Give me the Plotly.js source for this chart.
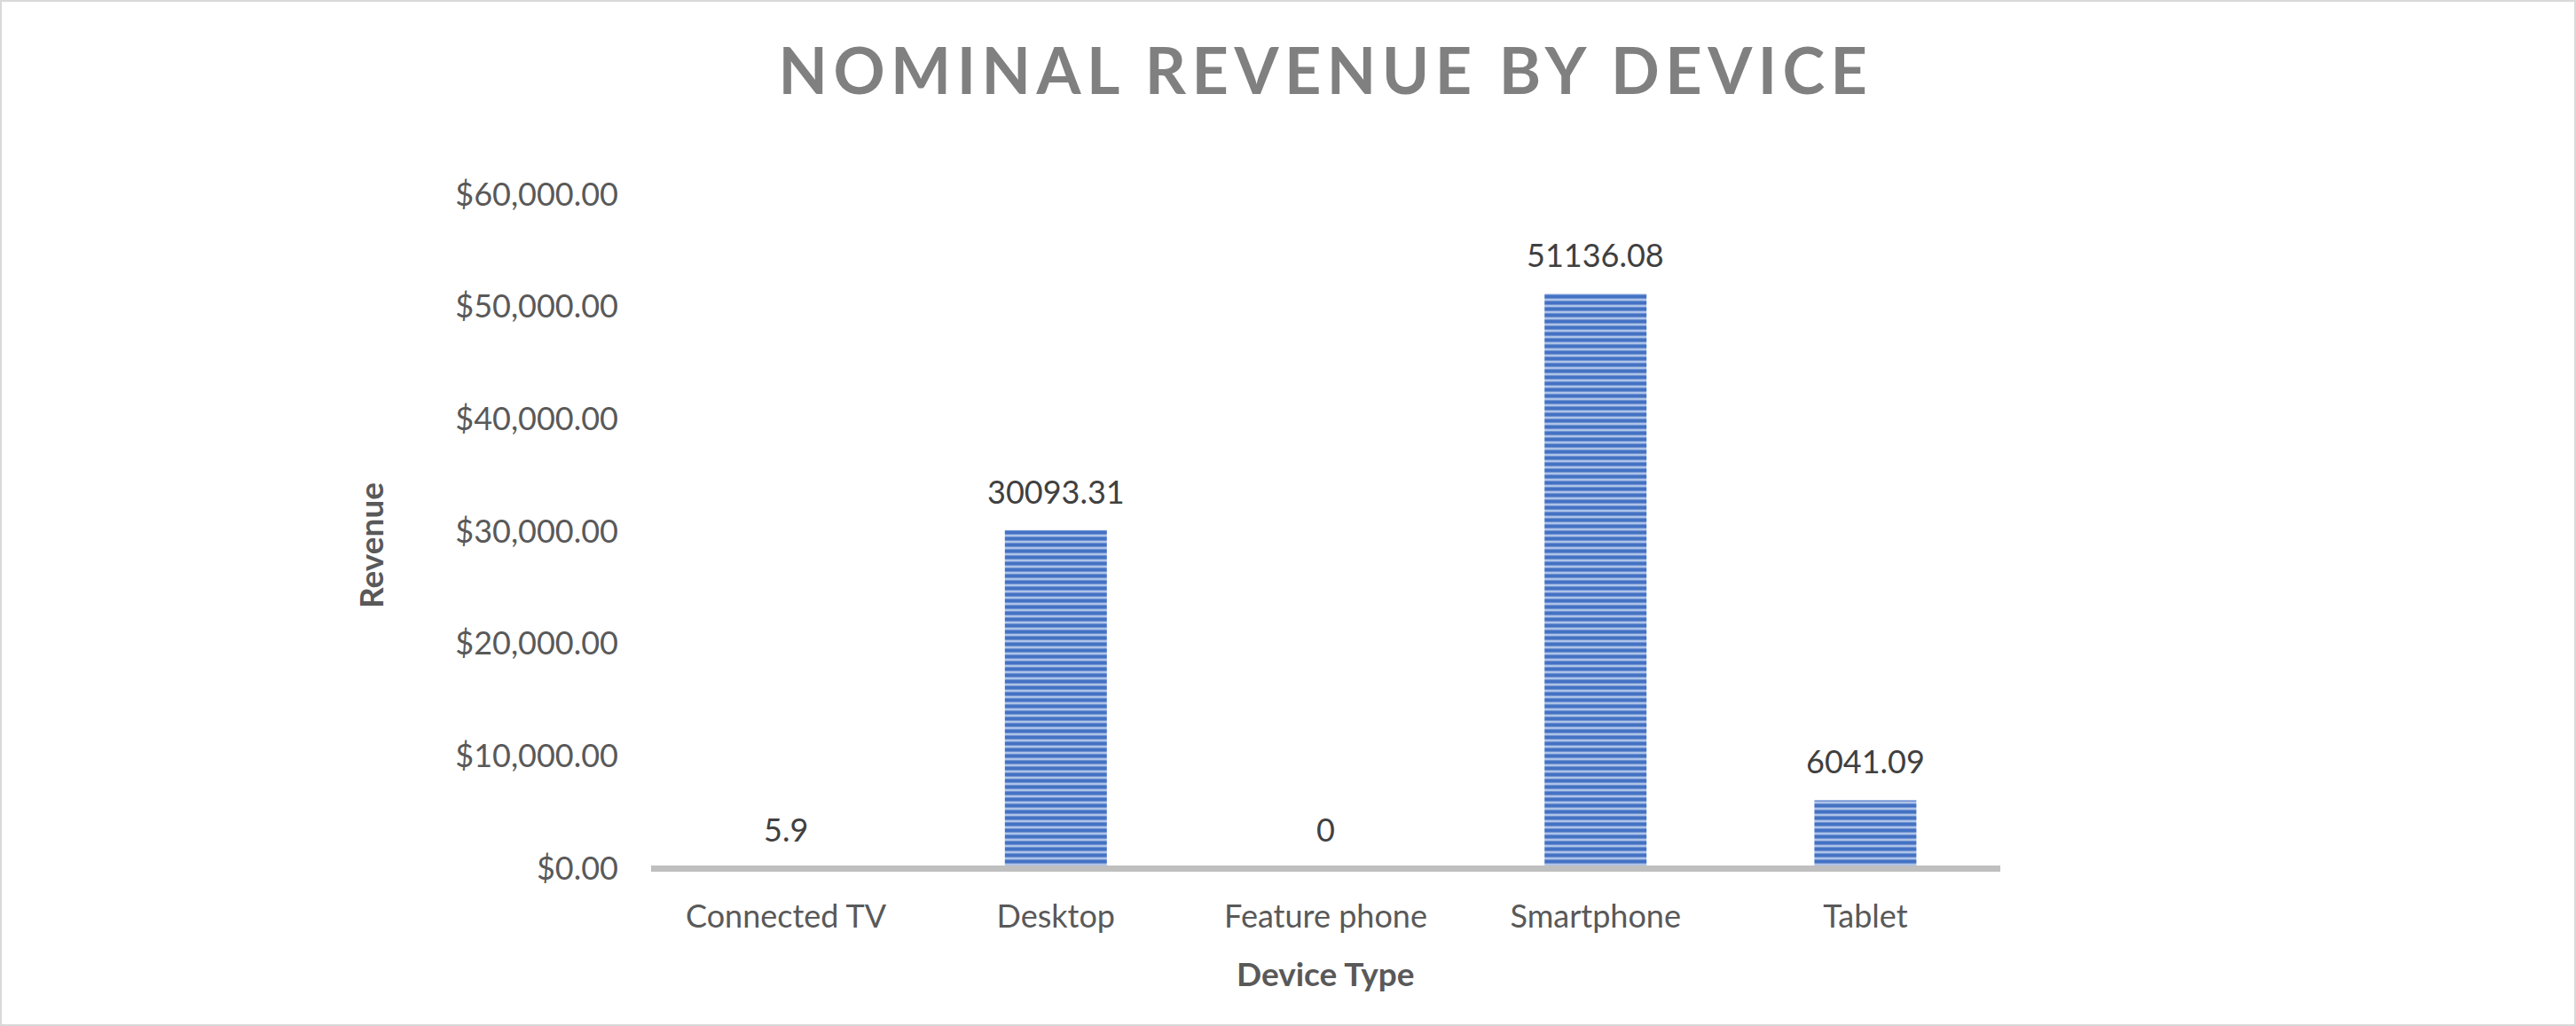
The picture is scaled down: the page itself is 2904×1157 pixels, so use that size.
<!DOCTYPE html>
<html><head><meta charset="utf-8">
<script src="https://cdn.plot.ly/plotly-3.0.1.min.js"></script>
<style>
html,body{margin:0;padding:0;background:#fff;overflow:hidden}
#frame{position:absolute;left:0;top:0;width:2904px;height:1157px;box-sizing:border-box;border:2px solid #d9d9d9;pointer-events:none}
</style></head><body>
<div id="chart" style="width:2904px;height:1157px"></div>
<div id="frame"></div>
<script>
const categories = ['Connected TV', 'Desktop', 'Feature phone', 'Smartphone', 'Tablet'];
const revenue = [5.9, 30093.31, 0, 51136.08, 6041.09];
const valueLabels = ['5.9', '30093.31', '0', '51136.08', '6041.09'];
const yTickValues = [0, 10000, 20000, 30000, 40000, 50000, 60000];

const W = 2904, H = 1157;
const plotL = 734, plotR = 2255, plotT = 219, plotB = 979;

const trace = {
  type: 'bar',
  x: categories,
  y: revenue,
  marker: {
    color: '#aec3e8',
    line: {width: 0},
    pattern: {shape: '-', size: 7, solidity: 0.6, fgcolor: '#4472c4', fgopacity: 1, bgcolor: '#aec3e8', fillmode: 'overlay'}
  },
  hoverinfo: 'x+y',
  cliponaxis: false
};

const annotations = categories.map((c, i) => ({
  x: c, y: revenue[i], xref: 'x', yref: 'y',
  text: valueLabels[i], showarrow: false,
  yanchor: 'middle', xanchor: 'center', yshift: 44,
  font: {family: 'Lato, sans-serif', size: 36, color: '#404040'}
}));

annotations.push({
  xref: 'paper', yref: 'paper', x: 0.5, y: 0, yanchor: 'middle', xanchor: 'center',
  yshift: -(1097 - plotB), showarrow: false,
  text: 'Device Type',
  font: {family: 'Lato, sans-serif', size: 37, weight: 700, color: '#595959'}
});
annotations.push({
  xref: 'paper', yref: 'paper', x: 0, y: 0.5, xanchor: 'center', yanchor: 'middle',
  xshift: 417 - plotL, yshift: ((plotT + plotB) / 2) - 615, textangle: -90, showarrow: false,
  text: 'Revenue',
  font: {family: 'Lato, sans-serif', size: 37, weight: 700, color: '#595959'}
});

const layout = {
  width: W, height: H,
  margin: {l: plotL, r: W - plotR, t: plotT, b: H - plotB, pad: 0},
  paper_bgcolor: '#ffffff', plot_bgcolor: '#ffffff',
  font: {family: 'Lato, sans-serif', size: 36, color: '#595959'},
  showlegend: false,
  title: {
    text: 'NOMINAL REVENUE BY DEVICE',
    font: {family: 'Lato, sans-serif', size: 72, weight: 700, color: '#808080'},
    xref: 'paper', x: 0.5, xanchor: 'center',
    yref: 'container', y: 1 - 81 / H, yanchor: 'middle'
  },
  bargap: 0.622,
  xaxis: {
    type: 'category', showgrid: false, showline: false, zeroline: false, ticks: '',
    tickfont: {family: 'Lato, sans-serif', size: 36, color: '#595959'},
    ticklabelstandoff: 30, fixedrange: true
  },
  yaxis: {
    range: [0, 60000], tickvals: yTickValues, tickformat: '$,.2f',
    showgrid: false, showline: false, ticks: '',
    zeroline: true, zerolinecolor: '#bfbfbf', zerolinewidth: 7, zerolinelayer: 'above traces',
    tickfont: {family: 'Lato, sans-serif', size: 36, color: '#595959'},
    ticklabelstandoff: 36, fixedrange: true
  },
  annotations: annotations
};

Plotly.newPlot('chart', [trace], layout, {displayModeBar: false, staticPlot: true}).then(() => {
  const t = document.querySelector('.gtitle');
  if (t) t.style.letterSpacing = '6.5px';
});
</script>
</body></html>
